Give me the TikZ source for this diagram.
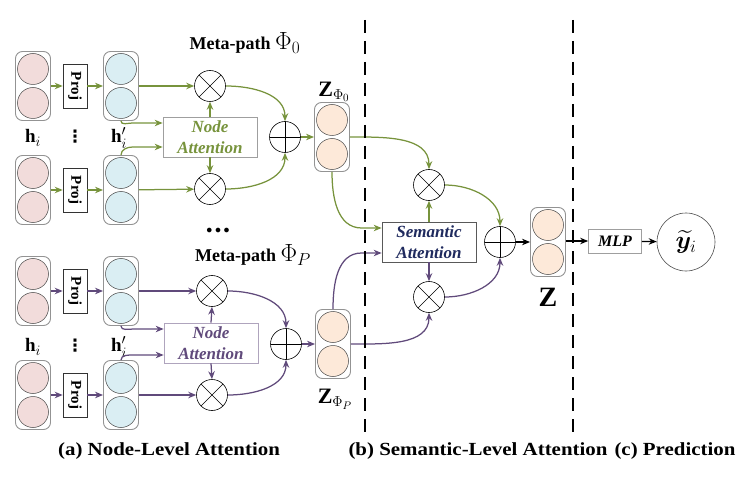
\documentclass[tikz,border=0pt]{standalone}
\usepackage{amsmath,bm}
\usepackage{fontspec}
\setmainfont{Liberation Serif}
\newfontfamily\djv{DejaVu Sans}
\usetikzlibrary{arrows.meta,calc}
\definecolor{gr}{HTML}{77933C}
\definecolor{pu}{HTML}{604A7B}
\definecolor{pinkc}{HTML}{F2DCDB}
\definecolor{cyanc}{HTML}{DAEEF3}
\definecolor{peach}{HTML}{FDE9D9}
\definecolor{navy}{HTML}{1F2A5E}
\newcommand\vcol[4]{%
  \node[colbox] (#1) at (#2,-#3) {};
  \node[neuron,fill=#4] (#1a) at (#2,-#3+17) {};
  \node[neuron,fill=#4] (#1b) at (#2,-#3-17) {};
}
\begin{document}
\begin{tikzpicture}[x=1pt,y=1pt,
  colbox/.style={rectangle,rounded corners=7pt,draw=gray!85,line width=0.9pt,minimum width=35pt,minimum height=69pt,inner sep=0pt},
  neuron/.style={circle,draw=gray!55!black,line width=0.5pt,minimum size=31pt,inner sep=0pt},
  projbox/.style={draw=black!80,line width=0.6pt,fill=white,rotate=-90,minimum width=44pt,minimum height=24pt,inner sep=0pt,font=\fontsize{15}{15}\selectfont\bfseries},
  attbox/.style={draw=gray!75,line width=0.7pt,fill=white,minimum width=94pt,minimum height=40pt,inner sep=0pt,align=center,font=\fontsize{17}{21}\selectfont\bfseries\itshape},
  mul/.style={circle,draw=black,line width=0.6pt,minimum size=31pt,inner sep=0pt,
    path picture={\draw[line width=0.6pt] (path picture bounding box.north west)--(path picture bounding box.south east) (path picture bounding box.north east)--(path picture bounding box.south west);}},
  add/.style={circle,draw=black,line width=0.6pt,minimum size=31pt,inner sep=0pt,
    path picture={\draw[line width=0.6pt] (path picture bounding box.north)--(path picture bounding box.south) (path picture bounding box.east)--(path picture bounding box.west);}},
  garrow/.style={draw=gr,line width=1.25pt,-{Stealth[length=8pt,width=6.5pt]}},
  parrow/.style={draw=pu,line width=1.25pt,-{Stealth[length=8pt,width=6.5pt]}},
  barrow/.style={draw=black,line width=1.25pt,-{Stealth[length=8pt,width=6.5pt]}},
  dashline/.style={draw=black,line width=2.6pt,dash pattern=on 13pt off 8pt},
  lbl/.style={font=\fontsize{19}{19}\selectfont,inner sep=1pt},
  vdt/.style={font=\djv\bfseries\fontsize{17}{17}\selectfont,inner sep=0pt},
  captxt/.style={font=\fontsize{18.5}{18.5}\selectfont\bfseries,xscale=1.13}
]
\useasboundingbox (0,0) rectangle (752,-481);

% ---------- group A (green) ----------
\vcol{pA1}{33}{86}{pinkc}
\vcol{cA1}{121}{86}{cyanc}
\vcol{pA2}{33}{190}{pinkc}
\vcol{cA2}{121}{190}{cyanc}
\node[projbox] (jA1) at (75,-86) {Proj};
\node[projbox] (jA2) at (75,-190) {Proj};
\node[lbl] (lhA) at (33,-138) {$\mathbf{h}_i$};
\node[vdt] (ldA) at (75,-137) {⋮};
\node[lbl] (lhpA) at (119,-138) {$\mathbf{h}'_i$};
\node[attbox,text=gr] (attA) at (210,-137) {Node\\Attention};
\node[mul] (mA1) at (210,-86) {};
\node[mul] (mA2) at (210,-189) {};
\node[add] (addA) at (285,-137) {};
\vcol{zA}{332}{137}{peach}
\node (lzA) at (334,-92) {\fontsize{22}{22}\selectfont$\mathbf{Z}_{\Phi_0}$};
\node (metaA) at (245,-43) {\fontsize{18}{18}\selectfont\bfseries Meta-path \fontsize{25}{25}\selectfont$\Phi_0$};

\draw[garrow] (pA1) -- (jA1);
\draw[garrow] (jA1) -- (cA1);
\draw[garrow] (pA2) -- (jA2);
\draw[garrow] (jA2) -- (cA2);
\draw[garrow] (cA1) -- (mA1);
\draw[garrow] (cA2) -- (mA2);
\draw[garrow] (cA1.south) to[out=-90,in=180] ([xshift=-30pt,yshift=14pt]attA.west) -- ([yshift=14pt]attA.west);
\draw[garrow] (cA2.north) to[out=90,in=180] ([xshift=-30pt,yshift=-10pt]attA.west) -- ([yshift=-10pt]attA.west);
\draw[garrow] (attA.north) -- (mA1.south);
\draw[garrow] (attA.south) -- (mA2.north);
\draw[garrow] (mA1.east) to[out=0,in=90] (addA.north);
\draw[garrow] (mA2.east) to[out=0,in=-90] (addA.south);
\draw[garrow] (addA) -- (zA);

% ---------- group B (purple) ----------
\node (dots) at (218,-231) {\fontsize{13}{13}\selectfont$\bullet\bullet\bullet$};
\vcol{pB1}{33}{291}{pinkc}
\vcol{cB1}{121}{291}{cyanc}
\vcol{pB2}{33}{395}{pinkc}
\vcol{cB2}{121}{395}{cyanc}
\node[projbox] (jB1) at (75,-291) {Proj};
\node[projbox] (jB2) at (75,-395) {Proj};
\node[lbl] (lhB) at (33,-347) {$\mathbf{h}_i$};
\node[vdt] (ldB) at (75,-346) {⋮};
\node[lbl] (lhpB) at (119,-347) {$\mathbf{h}'_i$};
\node[attbox,text=pu,draw=pu!50] (attB) at (211,-343) {Node\\Attention};
\node[mul] (mB1) at (212,-291) {};
\node[mul] (mB2) at (212,-395) {};
\node[add] (addB) at (286,-344) {};
\vcol{zB}{333}{344}{peach}
\node (lzB) at (335,-399) {\fontsize{22}{22}\selectfont$\mathbf{Z}_{\Phi_P}$};
\node (metaB) at (253,-255) {\fontsize{18}{18}\selectfont\bfseries Meta-path \fontsize{25}{25}\selectfont$\Phi_P$};

\draw[parrow] (pB1) -- (jB1);
\draw[parrow] (jB1) -- (cB1);
\draw[parrow] (pB2) -- (jB2);
\draw[parrow] (jB2) -- (cB2);
\draw[parrow] (cB1) -- (mB1);
\draw[parrow] (cB2) -- (mB2);
\draw[parrow] (cB1.south) to[out=-90,in=180] ([xshift=-30pt,yshift=14pt]attB.west) -- ([yshift=14pt]attB.west);
\draw[parrow] (cB2.north) to[out=90,in=180] ([xshift=-30pt,yshift=-12pt]attB.west) -- ([yshift=-12pt]attB.west);
\draw[parrow] (attB.north) -- (mB1.south);
\draw[parrow] (attB.south) -- (mB2.north);
\draw[parrow] (mB1.east) to[out=0,in=90] (addB.north);
\draw[parrow] (mB2.east) to[out=0,in=-90] (addB.south);
\draw[parrow] (addB) -- (zB);

% ---------- semantic level ----------
\node[attbox,text=navy,draw=gray!70!black] (sem) at (429,-242) {Semantic\\Attention};
\node[mul] (mS1) at (429,-185) {};
\node[mul] (mS2) at (429,-297) {};
\node[add] (addS) at (500,-242) {};
\vcol{zC}{548}{242}{peach}
\node (lzC) at (548,-297) {\fontsize{28}{28}\selectfont$\mathbf{Z}$};

\draw[garrow] (zA.east) to[out=0,in=90] (mS1.north);
\draw[garrow] (zA.south) to[out=-90,in=180] ([xshift=-20pt,yshift=14pt]sem.west) -- ([yshift=14pt]sem.west);
\draw[parrow] (zB.north) to[out=90,in=180] ([xshift=-20pt,yshift=-11pt]sem.west) -- ([yshift=-11pt]sem.west);
\draw[parrow] (zB.east) to[out=0,in=-90] (mS2.south);
\draw[garrow] (sem.north) -- (mS1.south);
\draw[parrow] (sem.south) -- (mS2.north);
\draw[garrow] (mS1.east) to[out=0,in=90] (addS.north);
\draw[parrow] (mS2.east) to[out=0,in=-90] (addS.south);
\draw[barrow] (addS) -- (zC);

% ---------- prediction ----------
\node[draw=gray!75,line width=0.7pt,minimum width=53pt,minimum height=24pt,inner sep=0pt,font=\fontsize{16}{16}\selectfont\bfseries\itshape] (mlp) at (615,-241) {MLP};
\node[circle,draw=gray!60!black,line width=0.6pt,minimum size=58pt,inner sep=0pt] (yout) at (686,-242) {\fontsize{24}{24}\selectfont$\widetilde{\boldsymbol{y}}_i$};
\draw[barrow] (zC.east |- mlp) -- (mlp);
\draw[barrow] (mlp) -- (yout);

% ---------- dashed separators ----------
\coordinate (d1t) at (365,-20);
\coordinate (d1b) at (365,-432);
\coordinate (d2t) at (573,-20);
\coordinate (d2b) at (573,-432);
\draw[dashline] (d1t) -- (d1b);
\draw[dashline] (d2t) -- (d2b);

% ---------- captions ----------
\node[captxt] (capA) at (169,-451) {(a) Node-Level Attention};
\node[captxt] (capB) at (478,-451) {(b) Semantic-Level Attention};
\node[captxt] (capC) at (675,-451) {(c) Prediction};
\end{tikzpicture}
\end{document}
